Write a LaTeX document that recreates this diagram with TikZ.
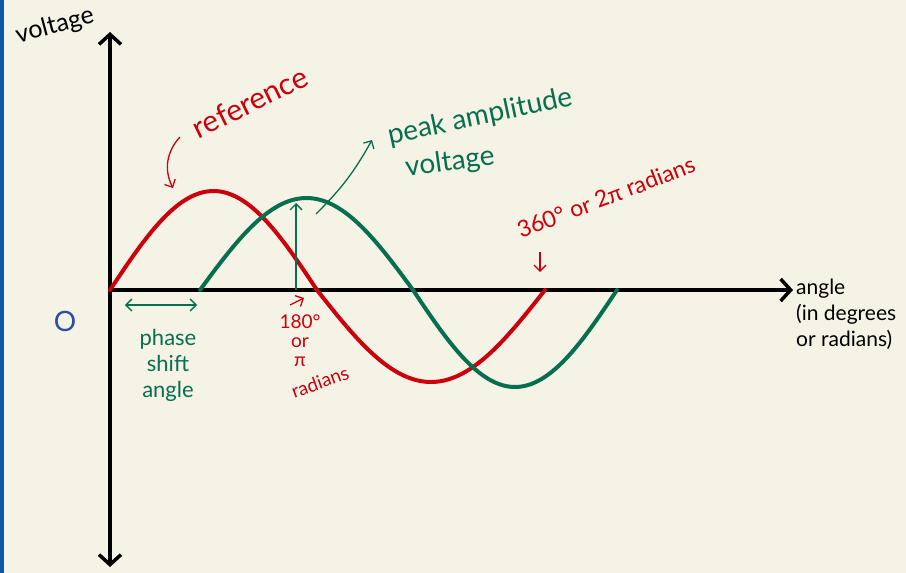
\documentclass[tikz,border=0pt]{standalone}
\usepackage{fontspec}
\setmainfont{Lato}
\usetikzlibrary{arrows.meta,positioning}
\definecolor{paper}{RGB}{245,243,230}
\definecolor{edgeblue}{RGB}{12,88,168}
\definecolor{refred}{RGB}{204,0,12}
\definecolor{shiftgreen}{RGB}{8,110,80}
\definecolor{zeroblue}{RGB}{40,80,160}
\tikzset{
    axis line/.style={
        line width=3.5pt,
        black,
        {Straight Barb[length=10pt,width=22pt]}-{Straight Barb[length=10pt,width=22pt]}
    },
    red wave/.style={line width=4pt, refred, line cap=round},
    green wave/.style={line width=4pt, shiftgreen, line cap=round},
    thin arrow/.style={line width=1.3pt, -{Straight Barb[length=6pt,width=12pt]}},
    hand/.style={inner sep=1pt, font=\fontsize{#1}{26}\selectfont},
    hand/.default=22
}

\begin{document}
\begin{tikzpicture}[x=1pt, y=1pt]
    % page and margins
    \fill[paper] (-110,-283) rectangle (796,290);
    \fill[edgeblue] (-110,-283) rectangle (-106,290);
    \useasboundingbox (-110,-283) rectangle (796,290);

    \coordinate (O) at (0,0);
    \coordinate (Vtop) at (0,258);
    \coordinate (Vbot) at (0,-277);
    \coordinate (Hend) at (683,0);

    % axes
    \draw[axis line] (Vbot) -- (Vtop);
    \draw[axis line, {-Straight Barb[length=10pt,width=22pt]}] (O) -- (Hend);

    % reference wave
    \draw[red wave] plot[domain=0:207, samples=60, smooth] (\x, {99*sin(\x/207*180)})
        -- plot[domain=207:435, samples=60, smooth] (\x, {-92*sin((\x-207)/228*180)});
    % shifted wave
    \draw[green wave] plot[domain=90:303, samples=60, smooth] (\x, {92*sin((\x-90)/213*180)})
        -- plot[domain=303:507, samples=60, smooth] (\x, {-97*sin((\x-303)/204*180)});

    % labels
    \node[hand=25, rotate=15] (volt) at (-55,264) {voltage};
    \node[hand=28, zeroblue] (zero) at (-45,-31) {O};
    \node[hand=30, refred, rotate=26] (ref) at (140,188) {reference};
    \node[hand=28, shiftgreen, rotate=12] (peak) at (370,173) {peak amplitude};
    \node[hand=28, shiftgreen, rotate=8] (peakv) at (340,127) {voltage};
    \node[hand=23, refred, rotate=21] (full) at (496,93) {360° or 2π radians};
    \node[hand=21, anchor=north west, align=left] (angle) at (685,12)
        {angle\\(in degrees\\or radians)};
    \node[hand=22, shiftgreen, align=center] (phase) at (58,-75)
        {phase\\shift\\angle};
    \node[hand=19, refred, align=center, font=\fontsize{19}{19}\selectfont] (half) at (190,-51) {180°\\or\\π};
    \node[hand=19, refred, rotate=20] (halfrad) at (210,-92) {radians};

    % pointers
    \coordinate (refA) at (70,153);
    \coordinate (refB) at (63,102);
    \draw[thin arrow, refred] (refA) to[bend right=35] (refB);

    \coordinate (peakA) at (206,76);
    \coordinate (peakB) at (262,150);
    \draw[thin arrow, shiftgreen] (peakA) to[bend right=8] (peakB);

    \coordinate (ampA) at (186,0);
    \coordinate (ampB) at (186,87);
    \draw[thin arrow, shiftgreen] (ampA) -- (ampB);

    \coordinate (fullA) at (430,38);
    \coordinate (fullB) at (430,18);
    \draw[thin arrow, refred] (fullA) -- (fullB);

    \coordinate (halfA) at (180,-15);
    \coordinate (halfB) at (194,-8);
    \draw[thin arrow, refred] (halfA) -- (halfB);

    \coordinate (shiftA) at (15,-15);
    \coordinate (shiftB) at (87,-15);
    \draw[thin arrow, shiftgreen, {Straight Barb[length=6pt,width=12pt]}-{Straight Barb[length=6pt,width=12pt]}] (shiftA) -- (shiftB);
\end{tikzpicture}
\end{document}
